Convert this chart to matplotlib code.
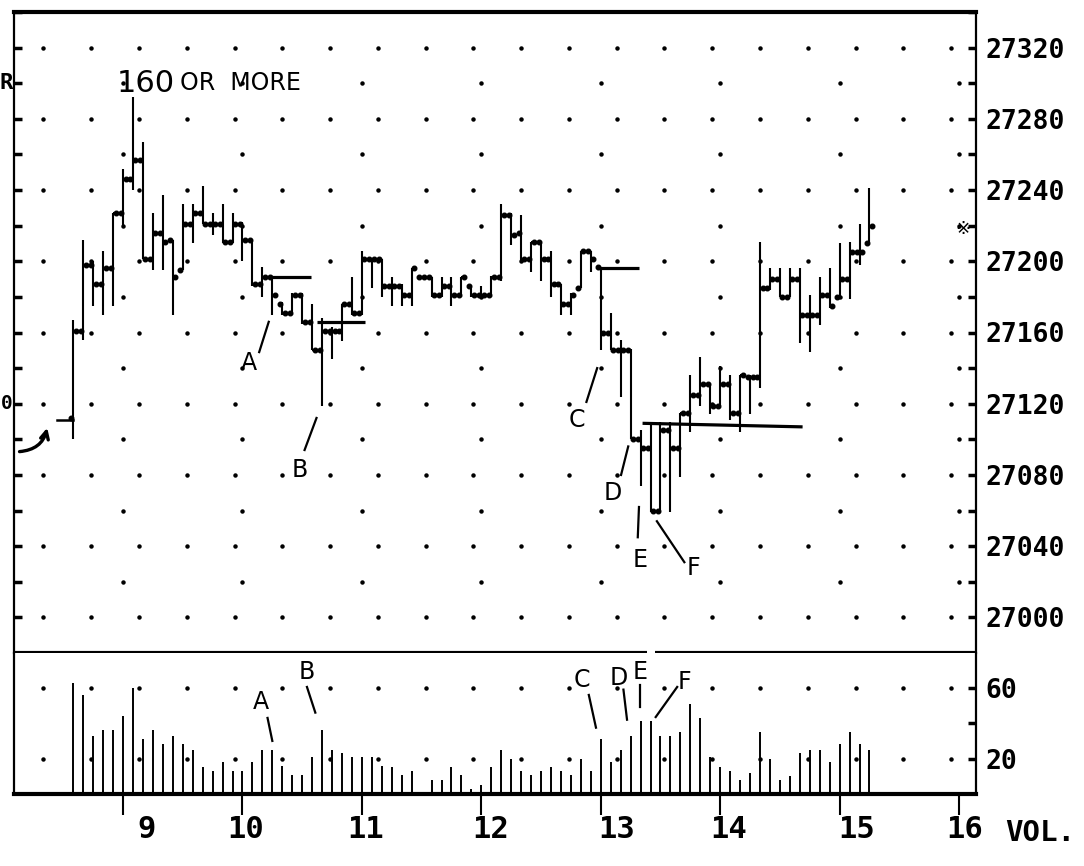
import numpy as np
import matplotlib
matplotlib.use("Agg")
import matplotlib.pyplot as plt
from matplotlib.transforms import ScaledTranslation

# ---------------- data (5-minute bars, 8:35 .. 15:15) ----------------
first_bar_hour = 8 + 35 / 60
bar_minutes = 5

opens = [27112, 27161, 27198, 27187, 27196, 27227, 27246, 27257, 27201, 27216,
         27212, 27195, 27221, 27227, 27221, 27221, 27211, 27221, 27212, 27187,
         27191, 27176, 27171, 27181, 27166, 27150, 27161, 27161, 27176, 27171,
         27201, 27201, 27186, 27186, 27181, 27191, 27191, 27181, 27186, 27181,
         27186, 27181, 27181, 27191, 27226, 27216, 27201, 27211, 27201, 27187,
         27176, 27185, 27206, 27197, 27160, 27150, 27150, 27100, 27095, 27060,
         27105, 27095, 27115, 27125, 27131, 27119, 27131, 27115, 27135, 27135,
         27185, 27190, 27180, 27190, 27170, 27170, 27181, 27180, 27190, 27205,
         27210]
highs = [27167, 27212, 27200, 27206, 27227, 27252, 27292, 27267, 27227, 27237,
         27212, 27232, 27232, 27242, 27227, 27232, 27227, 27222, 27212, 27197,
         27192, 27177, 27182, 27182, 27176, 27168, 27163, 27176, 27191, 27206,
         27201, 27201, 27191, 27187, 27196, 27192, 27191, 27191, 27191, 27191,
         27186, 27186, 27192, 27232, 27227, 27226, 27211, 27211, 27206, 27187,
         27182, 27206, 27206, 27197, 27171, 27156, 27151, 27105, 27110, 27110,
         27110, 27115, 27136, 27146, 27131, 27141, 27136, 27136, 27136, 27211,
         27196, 27196, 27196, 27196, 27181, 27191, 27196, 27210, 27211, 27221,
         27241]
lows = [27100, 27156, 27175, 27170, 27175, 27220, 27240, 27201, 27195, 27195,
        27170, 27195, 27210, 27221, 27215, 27210, 27210, 27200, 27186, 27180,
        27170, 27170, 27170, 27165, 27150, 27119, 27145, 27155, 27170, 27170,
        27185, 27180, 27175, 27175, 27175, 27190, 27180, 27180, 27175, 27180,
        27180, 27180, 27180, 27189, 27209, 27200, 27194, 27189, 27180, 27170,
        27170, 27185, 27194, 27150, 27150, 27124, 27100, 27074, 27059, 27059,
        27059, 27079, 27104, 27119, 27114, 27119, 27111, 27104, 27114, 27129,
        27184, 27180, 27180, 27154, 27149, 27164, 27174, 27179, 27179, 27198,
        27210]
closes = [27161, 27198, 27187, 27196, 27227, 27246, 27257, 27201, 27216, 27211,
          27191, 27221, 27227, 27221, 27221, 27211, 27221, 27212, 27187, 27191,
          27181, 27171, 27181, 27166, 27150, 27161, 27161, 27176, 27171, 27201,
          27201, 27186, 27186, 27181, 27196, 27191, 27181, 27186, 27181, 27191,
          27181, 27181, 27191, 27226, 27215, 27201, 27211, 27201, 27187, 27176,
          27181, 27206, 27201, 27160, 27150, 27150, 27100, 27095, 27060, 27105,
          27095, 27115, 27125, 27131, 27119, 27131, 27115, 27136, 27135, 27185,
          27190, 27180, 27190, 27170, 27170, 27181, 27175, 27190, 27205, 27205,
          27220]
volume = [63, 56, 33, 36, 36, 44, 60, 31, 36, 28,
          33, 28, 25, 15, 13, 18, 13, 13, 18, 25,
          25, 16, 11, 11, 21, 36, 25, 23, 21, 21,
          21, 16, 15, 11, 13, 0, 8, 8, 15, 11,
          3, 5, 15, 25, 20, 13, 11, 13, 15, 13,
          11, 20, 13, 31, 18, 25, 33, 41, 41, 33,
          33, 35, 51, 43, 21, 15, 13, 8, 12, 35,
          20, 8, 10, 23, 25, 25, 18, 28, 35, 28,
          25]

hour_ticks = [9, 10, 11, 12, 13, 14, 15, 16]
hour_labels = ["9", "10", "11", "12", "13", "14", "15", "16"]
price_ticks = [27000, 27040, 27080, 27120, 27160, 27200, 27240, 27280, 27320]
vol_ticks = [20, 40, 60]
vol_labels = ["20", "", "60"]

prev_close = 27111
# (start hour, end hour, start price, end price)
ref_lines = [(10.21, 10.57, 27191, 27191),
             (10.62, 11.03, 27166, 27166),
             (12.97, 13.32, 27196, 27196),
             (13.35, 14.69, 27109, 27107)]
# (letter, label pos, pointer start, pointer end)
price_notes = [("A", (10.05, 27143), (10.14, 27149), (10.22, 27166)),
               ("B", (10.48, 27083), (10.52, 27094), (10.62, 27112)),
               ("C", (12.80, 27111), (12.88, 27121), (12.97, 27140)),
               ("D", (13.10, 27070), (13.17, 27080), (13.23, 27096)),
               ("E", (13.33, 27032), (13.31, 27045), (13.32, 27062)),
               ("F", (13.78, 27028), (13.47, 27054), (13.70, 27031))]
vol_notes = [("A", (10.15, 52), (10.21, 43), (10.25, 30)),
             ("B", (10.54, 69), (10.54, 60.5), (10.61, 46)),
             ("C", (12.84, 64.5), (12.90, 56), (12.96, 37.5)),
             ("D", (13.15, 65.5), (13.19, 59), (13.22, 42)),
             ("E", (13.33, 69), (13.33, 61.5), (13.33, 49)),
             ("F", (13.70, 63.5), (13.64, 60.5), (13.46, 43.5))]

# ---------------- figure ----------------
W, H = 1084, 866
fig = plt.figure(figsize=(W / 100, H / 100), dpi=100)
fig.patch.set_facecolor("white")
xl, xr = 14, 976
ytop, ysep, ybot = 12, 653, 794
ax = fig.add_axes([xl / W, (H - ysep) / H, (xr - xl) / W, (ysep - ytop) / H])
axv = fig.add_axes([xl / W, (H - ybot) / H, (xr - xl) / W, (ybot - ysep) / H], sharex=ax)

XMIN, XMAX = 8.087, 16.142
ax.set_xlim(XMIN, XMAX)
ax.set_ylim(26980, 27340)
axv.set_ylim(0, 79.7)

mono = dict(family="DejaVu Sans Mono", weight="bold")
hand = dict(family="DejaVu Sans")

t = first_bar_hour + np.arange(len(closes)) * bar_minutes / 60

# grid dots
dot_x_fine = 8 + 1 / 3 + 0.4 * np.arange(20)
for p in range(27000, 27321, 40):
    ax.plot(dot_x_fine, np.full(dot_x_fine.size, p), ls="none", marker="o", ms=2.2, color="black")
for p in range(27020, 27301, 40):
    hx = np.array(hour_ticks, dtype=float)
    ax.plot(hx, np.full(hx.size, p), ls="none", marker="o", ms=2.2, color="black")
for v in (20, 60):
    axv.plot(dot_x_fine, np.full(dot_x_fine.size, v), ls="none", marker="o", ms=2.2, color="black")

# price bars
tk = 0.03
ax.vlines(t, lows, highs, color="black", lw=1.5)
ax.hlines(opens, t - tk, t, color="black", lw=1.5)
ax.hlines(closes, t, t + tk, color="black", lw=1.5)
ax.plot(t - tk * 0.7, opens, ls="none", marker="o", ms=3.3, color="black")
ax.plot(t + tk * 0.7, closes, ls="none", marker="o", ms=3.3, color="black")

# previous close marker & arrow
ax.plot([t[0] - 0.135, t[0]], [prev_close, prev_close], color="black", lw=1.8)
ax.annotate("", xy=(8.37, 27108), xytext=(8.11, 27093),
            arrowprops=dict(arrowstyle="->", connectionstyle="arc3,rad=0.4",
                            lw=2.4, color="black", mutation_scale=14))

# reference lines
for x0, x1, p0, p1 in ref_lines:
    ax.plot([x0, x1], [p0, p1], color="black", lw=2.3, solid_capstyle="butt")

# annotations
for lab, lp, s, e in price_notes:
    ax.text(lp[0], lp[1], lab, ha="center", va="center", fontsize=17, **hand)
    ax.plot([s[0], e[0]], [s[1], e[1]], color="black", lw=1.6)
for lab, lp, s, e in vol_notes:
    axv.text(lp[0], lp[1], lab, ha="center", va="center", fontsize=17, **hand)
    axv.plot([s[0], e[0]], [s[1], e[1]], color="black", lw=1.6)

ax.text(8.95, 27300, "160", ha="left", va="center", fontsize=22, **hand)
ax.text(9.48, 27300, "OR  MORE", ha="left", va="center", fontsize=17, **hand)
ax.text(16.03, 27218, "\u203b", ha="center", va="center", fontsize=13, family="DejaVu Sans")

# volume bars
axv.vlines(t, 0, volume, color="black", lw=1.4)

# ---------------- axes styling ----------------
for a in (ax, axv):
    for s in a.spines.values():
        s.set_color("black")
    a.spines["left"].set_linewidth(1.6)
    a.spines["right"].set_linewidth(1.6)
ax.spines["top"].set_linewidth(3)
ax.spines["bottom"].set_visible(False)
axv.spines["top"].set_visible(False)
axv.spines["bottom"].set_linewidth(3)
# separator with a small gap
g0, g1 = (647 - xl) / (xr - xl), (655 - xl) / (xr - xl)
ax.plot([0, g0], [0, 0], transform=ax.transAxes, color="black", lw=3, clip_on=False, solid_capstyle="butt")
ax.plot([g1, 1], [0, 0], transform=ax.transAxes, color="black", lw=3, clip_on=False, solid_capstyle="butt")

ax.set_yticks(price_ticks)
ax.set_yticks(range(27000, 27341, 20), minor=True)
ax.set_yticklabels([str(p) for p in price_ticks], fontsize=19, **mono)
ax.tick_params(axis="y", which="both", left=True, right=True, labelleft=False, labelright=True,
               direction="in", length=6, width=2.5, pad=6.5)
ax.tick_params(axis="x", which="both", bottom=False, top=False, labelbottom=False)

axv.set_yticks(vol_ticks)
axv.set_yticklabels(vol_labels, fontsize=19, **mono)
axv.tick_params(axis="y", left=False, right=True, labelleft=False, labelright=True,
                direction="in", length=6, width=2.5, pad=6.5)
axv.set_xticks(hour_ticks)
axv.set_xticklabels(hour_labels, fontsize=22, **mono)
axv.tick_params(axis="x", direction="out", length=15, width=1.5, pad=0)
label_shift_px = [24, 3, 4, 9, 16, 8, 17, 6]
for lbl, dx in zip(axv.get_xticklabels(), label_shift_px):
    lbl.set_transform(lbl.get_transform() + ScaledTranslation(dx / 100, 0, fig.dpi_scale_trans))

# left-axis labels squeezed against the figure edge
ax.annotate("R", xy=(0, 27300), xycoords=("axes fraction", "data"), xytext=(-0.5, 0),
            textcoords="offset points", ha="right", va="center", fontsize=16, **mono)
ax.annotate("0", xy=(0, 27120), xycoords=("axes fraction", "data"), xytext=(-1.2, 0),
            textcoords="offset points", ha="right", va="center", fontsize=14, **mono)

fig.text(1040 / W, (H - 833) / H, "VOL.", ha="center", va="center", fontsize=21, **mono)

fig.savefig("out.png", dpi=100, facecolor="white")
